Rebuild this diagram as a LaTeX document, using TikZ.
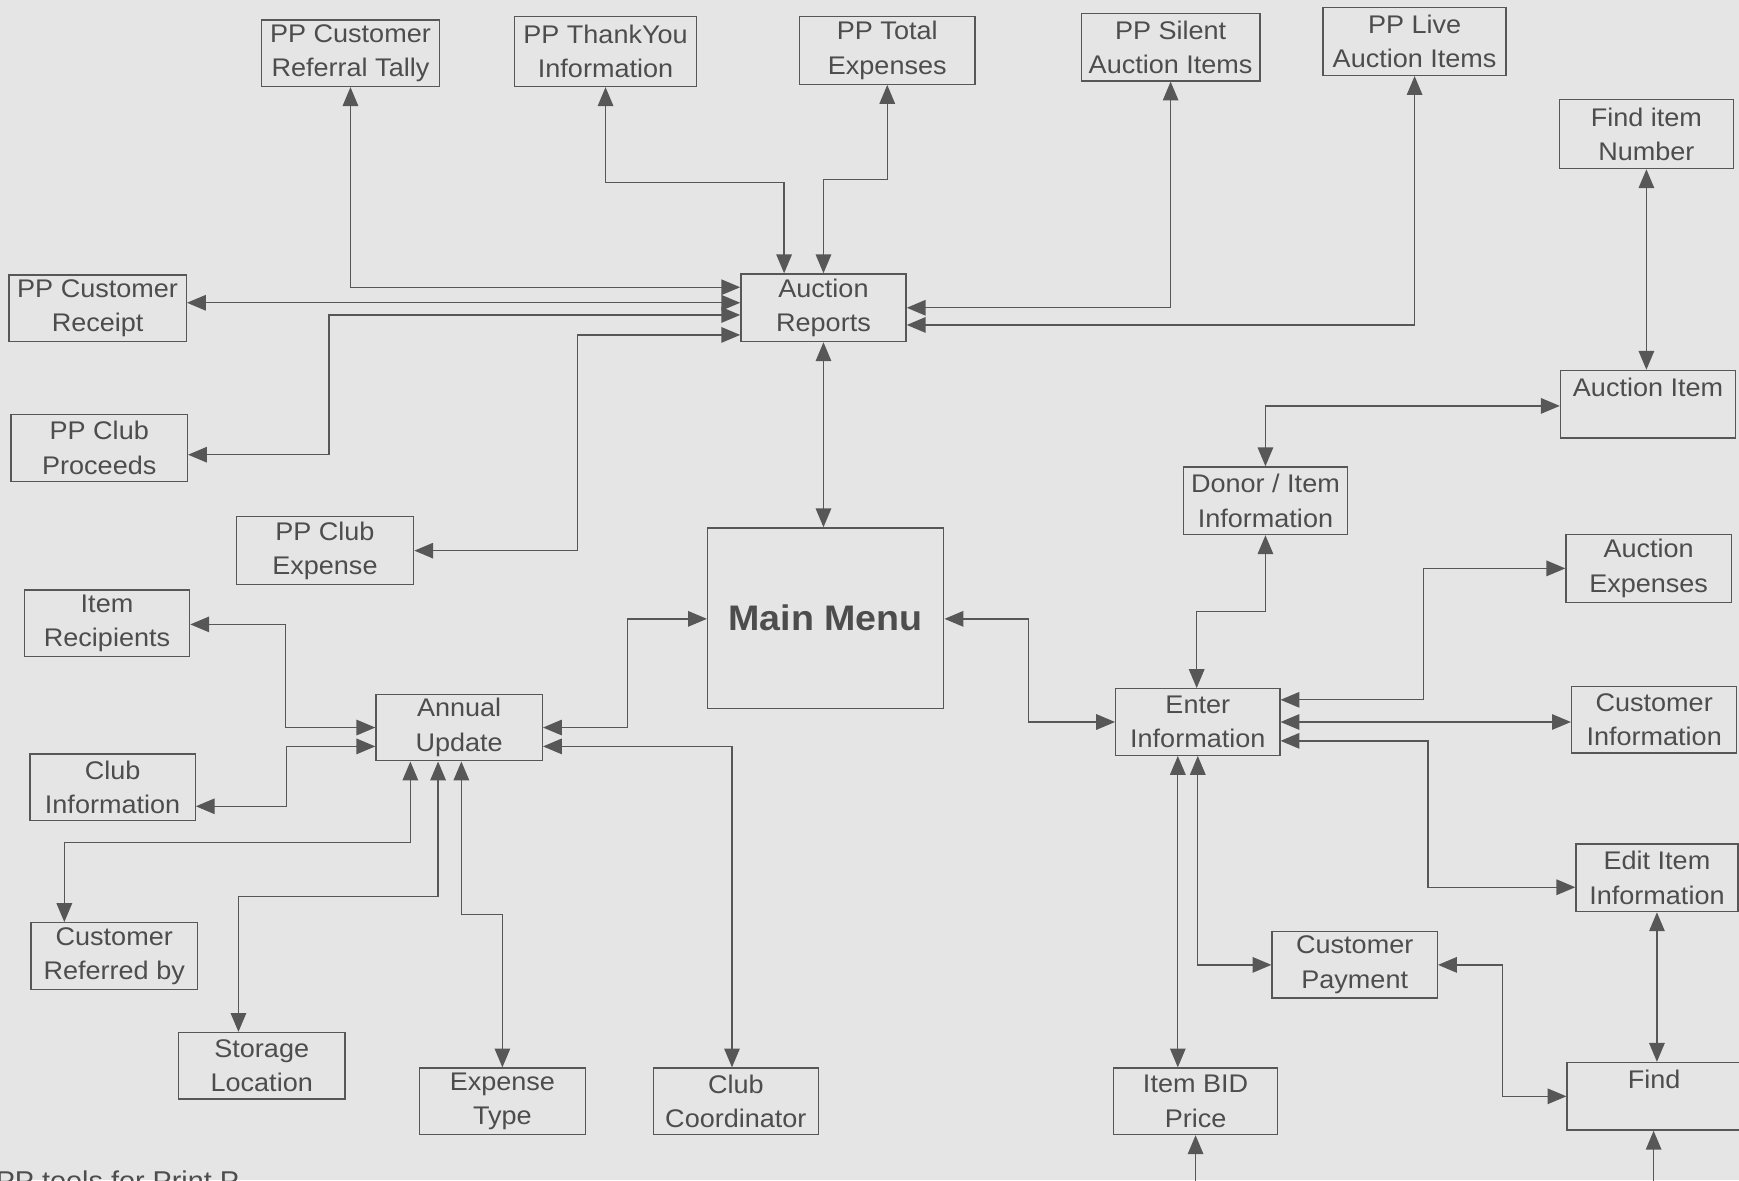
\documentclass[tikz,border=0pt]{standalone}
\usepackage{fontspec}
\setmainfont[FakeStretch=1.06]{Liberation Sans}
\usetikzlibrary{arrows.meta,calc}
\definecolor{bg}{HTML}{E5E5E5}
\definecolor{ln}{HTML}{575757}
\definecolor{tx}{HTML}{4D4D4D}
\begin{document}
\begin{tikzpicture}[x=1pt,y=-1pt,
  box/.style={draw=ln, line width=1.2pt, inner sep=0pt, align=center, text=tx,
    font=\fontsize{23}{31}\selectfont},
  bi/.style={draw=ln, line width=1.2pt,
    {Triangle[length=17pt,width=14pt]}-{Triangle[length=17pt,width=14pt]}},
  uni/.style={draw=ln, line width=1.2pt, -{Triangle[length=17pt,width=14pt]}}]
\useasboundingbox (0,0) rectangle (1568,1064);
\fill[bg] (0,0) rectangle (1568,1064);

% nodes
\node[box,minimum width=160pt,minimum height=60pt] (refTally) at (316,48) {PP Customer\\Referral Tally};
\node[box,minimum width=164pt,minimum height=63pt] (thankyou) at (546,46.5) {PP ThankYou\\Information};
\node[box,minimum width=158pt,minimum height=61pt] (totalexp) at (800,45.5) {PP Total\\Expenses};
\node[box,minimum width=161pt,minimum height=61pt] (silent) at (1055.5,42.5) {PP Silent\\Auction Items};
\node[box,minimum width=165pt,minimum height=61pt] (live) at (1275.5,37.5) {PP Live\\Auction Items};
\node[box,minimum width=157pt,minimum height=62pt] (finditem) at (1484.5,121) {Find item\\Number};
\node[box,minimum width=160pt,minimum height=60pt] (receipt) at (88,278) {PP Customer\\Receipt};
\node[box,minimum width=149pt,minimum height=61pt] (AR) at (742.5,277.5) {Auction\\Reports};
\node[box,minimum width=159pt,minimum height=60pt] (clubproceeds) at (89.5,404) {PP Club\\Proceeds};
\node[box,minimum width=158pt,minimum height=61pt] (auctionitem) at (1486,364.5) {Auction Item\\\mbox{}};
\node[box,minimum width=148pt,minimum height=61pt] (donor) at (1141,451.5) {Donor / Item\\Information};
\node[box,minimum width=160pt,minimum height=61pt] (clubexpense) at (293,496.5) {PP Club\\Expense};
\node[box,minimum width=149pt,minimum height=61pt] (auctionexp) at (1486.5,512.5) {Auction\\Expenses};
\node[box,minimum width=213pt,minimum height=163pt,font=\bfseries\fontsize{32}{38}\selectfont] (MM) at (744.5,557.5) {Main Menu};
\node[box,minimum width=149pt,minimum height=60pt] (itemrecip) at (96.5,562) {Item\\Recipients};
\node[box,minimum width=150pt,minimum height=60pt] (annual) at (414,656) {Annual\\Update};
\node[box,minimum width=148pt,minimum height=60pt] (enter) at (1080,651) {Enter\\Information};
\node[box,minimum width=149pt,minimum height=60pt] (custinfo) at (1491.5,649) {Customer\\Information};
\node[box,minimum width=149pt,minimum height=60pt] (clubinfo) at (101.5,710) {Club\\Information};
\node[box,minimum width=146pt,minimum height=61pt] (edititem) at (1494,791.5) {Edit Item\\Information};
\node[box,minimum width=150pt,minimum height=60pt] (custref) at (103,862) {Customer\\Referred by};
\node[box,minimum width=149pt,minimum height=60pt] (custpay) at (1221.5,870) {Customer\\Payment};
\node[box,minimum width=150pt,minimum height=60pt] (storage) at (236,961) {Storage\\Location};
\node[box,minimum width=150pt,minimum height=60pt] (exptype) at (453,993) {Expense\\Type};
\node[box,minimum width=149pt,minimum height=60pt] (clubcoord) at (663.5,993) {Club\\Coordinator};
\node[box,minimum width=148pt,minimum height=60pt] (itembid) at (1078,993) {Item BID\\Price};
\node[box,minimum width=167pt,minimum height=61pt] (find) at (1496.5,988.5) {\hspace*{-10pt}Find\\\mbox{}};
\node[anchor=base west,inner sep=0pt,text=tx,font=\fontsize{24.5}{31}\selectfont] (foot) at (-4,1073) {PP tools for Print P};

\coordinate (bidin) at (1078,1080);
\coordinate (findin) at (1491,1080);

% connectors around Auction Reports
\draw[bi] (refTally.south) |- ($(AR.west)+(0,-18.5)$);
\draw[bi] (thankyou.south) -- ++(0,86) -| ($(AR.north)+(-35.5,0)$);
\draw[bi] (totalexp.south) -- ++(0,85) -| (AR.north);
\draw[bi] (silent.south) |- (AR.east);
\draw[bi] (live.south) |- ($(AR.east)+(0,15.5)$);
\draw[bi] ($(receipt.east)+(0,-5)$) -- ($(AR.west)+(0,-4.5)$);
\draw[bi] ($(clubproceeds.east)+(0,6)$) -- ++(127,0) |- ($(AR.west)+(0,6.5)$);
\draw[bi] (clubexpense.east) -- ++(147,0) |- ($(AR.west)+(0,24.5)$);
\draw[bi] (AR.south) -- (AR.south |- MM.north);

% right side
\draw[bi] (finditem.south) -- (finditem.south |- auctionitem.north);
\draw[bi] ($(auctionitem.west)+(0,1.5)$) -| (donor.north);
\draw[bi] (donor.south) -- ++(0,69) -| ($(enter.north)+(-1,0)$);
\draw[bi] (auctionexp.west) -- ++(-128,0) |- ($(enter.east)+(0,-20)$);
\draw[bi] (enter.east) -- (enter.east -| custinfo.west);
\draw[bi] ($(enter.east)+(0,17)$) -- ++(133,0) |- ($(edititem.west)+(0,8.5)$);
\draw[bi] ($(enter.south)+(-18,0)$) -- ($(itembid.north)+(-16,0)$);
\draw[bi] (enter.south) |- (custpay.west);
\draw[bi] (custpay.east) -- ++(58,0) |- (find.west);
\draw[bi] (edititem.south) -- (edititem.south |- find.north);
\draw[uni] (bidin) -- (itembid.south);
\draw[uni] (findin) -- (findin |- find.south);

% main menu
\draw[bi] ($(MM.east)+(0,0.5)$) -- ++(76,0) |- (enter.west);
\draw[bi] (annual.east) -- ++(76,0) |- ($(MM.west)+(0,0.5)$);

% left side around Annual Update
\draw[bi] ($(itemrecip.east)+(0,1)$) -- ++(86,0) |- (annual.west);
\draw[bi] ($(clubinfo.east)+(0,17)$) -- ++(82,0) |- ($(annual.west)+(0,17)$);
\draw[bi] ($(annual.south)+(-44,0)$) -- ++(0,73) -| ($(custref.north)+(-45,0)$);
\draw[bi] ($(annual.south)+(-19,0)$) -- ++(0,122) -| ($(storage.north)+(-21,0)$);
\draw[bi] ($(annual.south)+(2,0)$) -- ++(0,138) -| (exptype.north);
\draw[bi] ($(annual.east)+(0,17)$) -| ($(clubcoord.north)+(-3.5,0)$);
\end{tikzpicture}
\end{document}
